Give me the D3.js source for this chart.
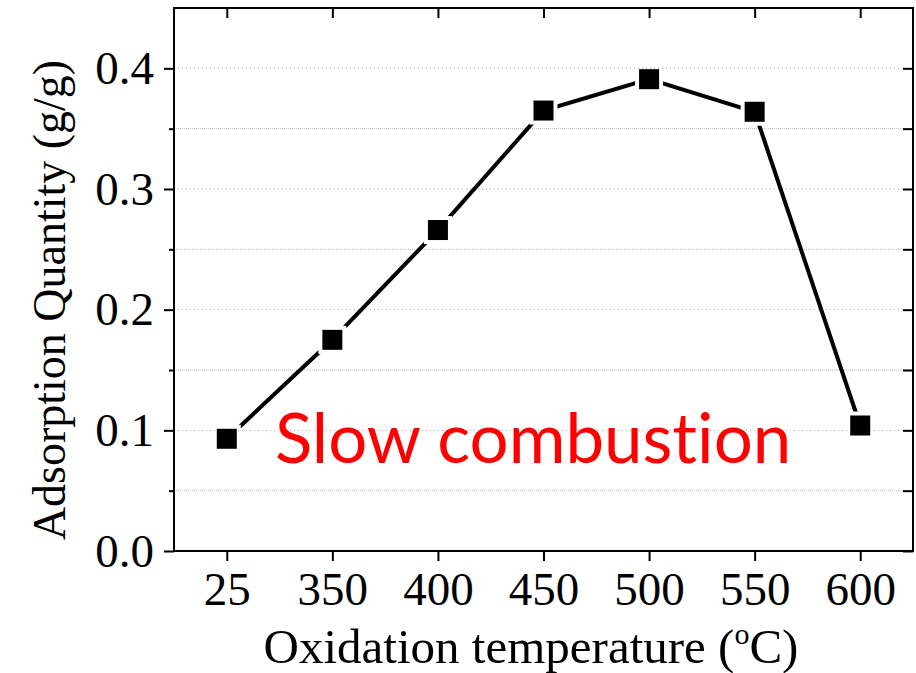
<!DOCTYPE html>
<html>
<head>
<meta charset="utf-8">
<script src="https://cdn.jsdelivr.net/npm/d3@7"></script>
<style>
  html, body { margin: 0; padding: 0; background: #fff; }
  svg { display: block; }
</style>
</head>
<body>
<div id="chart"></div>
<script>
// data
const temperatures = ['25', '350', '400', '450', '500', '550', '600'];
const adsorption = [0.093, 0.175, 0.266, 0.365, 0.391, 0.364, 0.104];
const majorTicks = [0.0, 0.1, 0.2, 0.3, 0.4];
const minorTicks = [0.05, 0.15, 0.25, 0.35];

const width = 916, height = 673;
const plot = { left: 174, right: 913, top: 8, bottom: 551 };

const svg = d3.select('#chart').append('svg')
    .attr('width', width)
    .attr('height', height);

// scales
const x = d3.scalePoint()
    .domain(temperatures)
    .range([plot.left, plot.right])
    .padding(0.5);

const y = d3.scaleLinear()
    .domain([0, 0.45])
    .range([plot.bottom, plot.top]);

const serif = '"Liberation Serif", "Times New Roman", serif';

// grid lines
svg.append('g')
    .selectAll('line')
    .data(majorTicks.filter(d => d > 0))
    .enter().append('line')
    .attr('x1', plot.left).attr('x2', plot.right)
    .attr('y1', d => y(d)).attr('y2', d => y(d))
    .attr('stroke', '#a8a8a8')
    .attr('stroke-width', 1)
    .attr('stroke-dasharray', '1,3');

svg.append('g')
    .selectAll('line')
    .data(minorTicks)
    .enter().append('line')
    .attr('x1', plot.left).attr('x2', plot.right)
    .attr('y1', d => y(d)).attr('y2', d => y(d))
    .attr('stroke', '#b8b8b8')
    .attr('stroke-width', 1)
    .attr('stroke-dasharray', '1,1');

// axes
function styleAxis(g) {
    g.select('.domain').remove();
    g.selectAll('.tick line').attr('stroke', '#000').attr('stroke-width', 2);
    g.selectAll('.tick text')
        .attr('fill', '#000')
        .style('font-family', serif)
        .style('font-size', '47px');
}

svg.append('g')
    .attr('transform', `translate(${plot.left},0)`)
    .call(d3.axisLeft(y).tickValues(majorTicks).tickSize(10).tickPadding(10).tickFormat(d3.format('.1f')))
    .call(styleAxis);

svg.append('g')
    .attr('transform', `translate(${plot.left},0)`)
    .call(d3.axisLeft(y).tickValues(minorTicks).tickSize(5).tickFormat(''))
    .call(styleAxis);

svg.append('g')
    .attr('transform', `translate(${plot.right},0)`)
    .call(d3.axisLeft(y).tickValues(majorTicks.concat(minorTicks)).tickSize(10).tickFormat(''))
    .call(styleAxis);

svg.append('g')
    .attr('transform', `translate(0,${plot.bottom})`)
    .call(d3.axisBottom(x).tickSize(10).tickPadding(11))
    .call(styleAxis);

svg.append('g')
    .attr('transform', `translate(0,${plot.top})`)
    .call(d3.axisBottom(x).tickSize(10).tickFormat(''))
    .call(styleAxis);

// frame
svg.append('rect')
    .attr('x', plot.left).attr('y', plot.top)
    .attr('width', plot.right - plot.left)
    .attr('height', plot.bottom - plot.top)
    .attr('fill', 'none')
    .attr('stroke', '#000')
    .attr('stroke-width', 2);

// line with gaps around the markers
const mask = svg.append('defs').append('mask').attr('id', 'gap');
mask.append('rect').attr('width', width).attr('height', height).attr('fill', '#fff');
mask.selectAll('.hole')
    .data(adsorption)
    .enter().append('rect')
    .attr('x', (d, i) => x(temperatures[i]) - 14)
    .attr('y', d => y(d) - 14)
    .attr('width', 28).attr('height', 28)
    .attr('fill', '#000');

const line = d3.line()
    .x((d, i) => x(temperatures[i]))
    .y(d => y(d));

svg.append('path')
    .datum(adsorption)
    .attr('d', line)
    .attr('fill', 'none')
    .attr('stroke', '#000')
    .attr('stroke-width', 4)
    .attr('mask', 'url(#gap)');

svg.append('g')
    .selectAll('rect')
    .data(adsorption)
    .enter().append('rect')
    .attr('x', (d, i) => x(temperatures[i]) - 10)
    .attr('y', d => y(d) - 10)
    .attr('width', 20).attr('height', 20)
    .attr('fill', '#000');

// annotation
svg.append('text')
    .attr('x', 275).attr('y', 463)
    .attr('fill', '#ff0000')
    .style('font-family', 'Lato, "Open Sans", sans-serif')
    .style('font-size', '69px')
    .style('font-variant-ligatures', 'none')
    .text('Slow combustion');

// axis titles
const xTitle = svg.append('text')
    .attr('x', 531).attr('y', 663)
    .attr('text-anchor', 'middle')
    .style('font-family', serif)
    .style('font-size', '49px')
    .attr('fill', '#000');
xTitle.append('tspan').text('Oxidation temperature (');
xTitle.append('tspan').attr('dy', -19).style('font-size', '30px').text('o');
xTitle.append('tspan').attr('dy', 19).text('C)');

svg.append('text')
    .attr('transform', 'translate(65,300) rotate(-90)')
    .attr('text-anchor', 'middle')
    .style('font-family', serif)
    .style('font-size', '46px')
    .attr('fill', '#000')
    .text('Adsorption Quantity (g/g)');
</script>
</body>
</html>
